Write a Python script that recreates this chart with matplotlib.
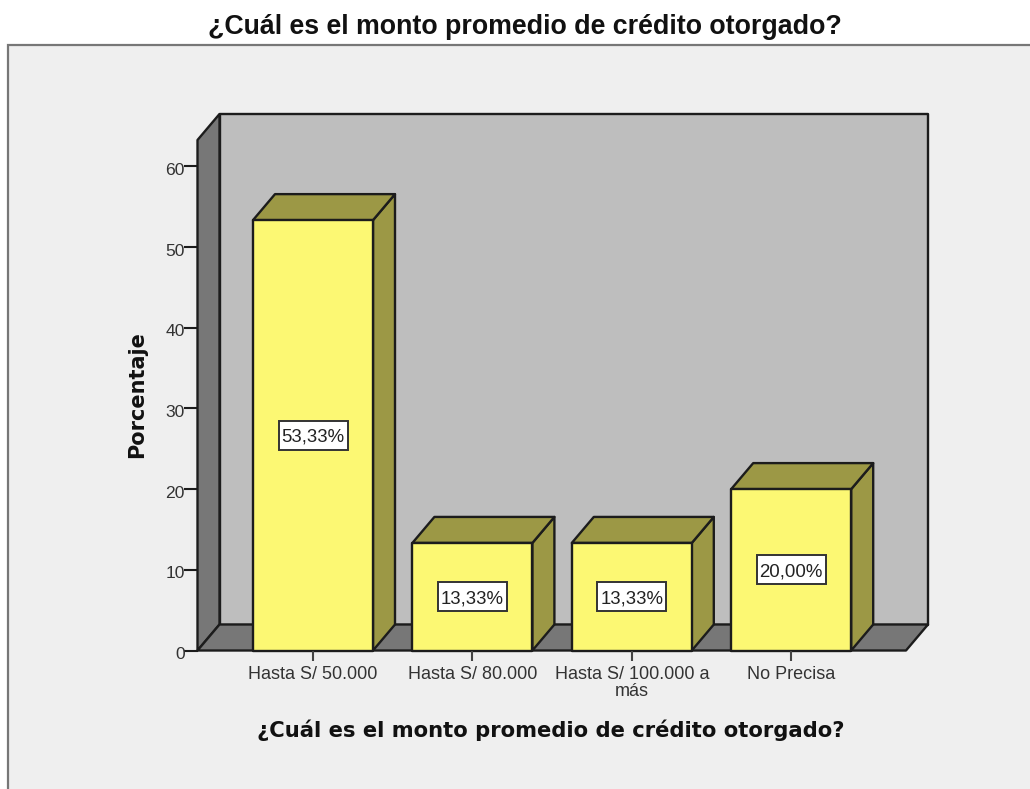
import matplotlib
matplotlib.use("Agg")
import matplotlib.pyplot as plt
from matplotlib.patches import Polygon, Rectangle
from matplotlib.transforms import ScaledTranslation

categories = ["Hasta S/ 50.000", "Hasta S/ 80.000", "Hasta S/ 100.000 a\nmás", "No Precisa"]
values = [53.33, 13.33, 13.33, 20.00]
value_labels = ["53,33%", "13,33%", "13,33%", "20,00%"]
y_ticks = [0, 10, 20, 30, 40, 50, 60]
title = "¿Cuál es el monto promedio de crédito otorgado?"
y_label = "Porcentaje"

W, H = 1030, 789
fig = plt.figure(figsize=(W / 100, H / 100), dpi=100, facecolor="white")
plt.rcParams["font.family"] = ["Liberation Sans", "DejaVu Sans"]

# chart panel
fig.patches.append(Rectangle((8 / W, -0.01), 1.01, 1 - 45 / H + 0.01, transform=fig.transFigure,
                             facecolor="#EFEFEF", edgecolor="#777777", linewidth=1.6, zorder=-1))

L, R, B, T = 197.5, 906, 650.5, 140
ax = fig.add_axes([L / W, 1 - B / H, (R - L) / W, (B - T) / H])
ymax = (B - T) / 8.07
step = 159.4
xmin = -(313 - L) / step
xmax = xmin + (R - L) / step
ax.set_xlim(xmin, xmax)
ax.set_ylim(0, ymax)
ax.patch.set_alpha(0)
for s in ax.spines.values():
    s.set_visible(False)

dx = 22 / step            # depth of the 3D projection in x units
dy = 26 / 8.07            # depth of the 3D projection in y units
bw = 120 / step
box_w = 69 / step
box_h = 29 / 8.07
EDGE = "#1c1c1c"
LW = 1.7
kw = dict(edgecolor=EDGE, linewidth=LW, joinstyle="round", clip_on=False)

# walls and floor
ax.add_patch(Polygon([(xmin + dx, dy), (xmax + dx, dy), (xmax + dx, ymax + dy), (xmin + dx, ymax + dy)],
                     facecolor="#BEBEBE", **kw))
ax.add_patch(Polygon([(xmin, 0), (xmin + dx, dy), (xmin + dx, ymax + dy), (xmin, ymax)],
                     facecolor="#777777", **kw))
ax.add_patch(Polygon([(xmin, 0), (xmax, 0), (xmax + dx, dy), (xmin + dx, dy)],
                     facecolor="#777777", **kw))

# bars
for i, v in enumerate(values):
    x0, x1 = i - bw / 2, i + bw / 2
    ax.add_patch(Polygon([(x1, 0), (x1 + dx, dy), (x1 + dx, v + dy), (x1, v)], facecolor="#9C9845", **kw))
    ax.add_patch(Polygon([(x0, v), (x1, v), (x1 + dx, v + dy), (x0 + dx, v + dy)], facecolor="#9C9845", **kw))
    ax.add_patch(Polygon([(x0, 0), (x1, 0), (x1, v), (x0, v)], facecolor="#FCF873", **kw))
    ax.add_patch(Rectangle((i - box_w / 2, v / 2 - box_h / 2), box_w, box_h, facecolor="white",
                           edgecolor="#333333", linewidth=1.4))
    ax.text(i, v / 2, value_labels[i], ha="center", va="center_baseline", fontsize=13.4, color="#222222")

ax.set_yticks(y_ticks)
ax.set_xticks(range(len(categories)))
ax.set_xticklabels(categories, linespacing=1.02)
ax.tick_params(axis="y", length=10, width=1.5, color=EDGE, labelsize=12.6, labelcolor="#333333", pad=-1)
ax.tick_params(axis="x", length=7, width=1.5, color="#444444", labelsize=13, labelcolor="#333333", pad=4)
shift = ScaledTranslation(0, -2.5 / 100, fig.dpi_scale_trans)
for lab in ax.get_yticklabels():
    lab.set_transform(lab.get_transform() + shift)

fig.text(525 / W, 1 - 27.5 / H, title, ha="center", va="center", fontsize=19.3, fontweight="bold", color="#111111")
fig.text(551 / W, 1 - 730 / H, title, ha="center", va="center", fontsize=15.2, fontweight="bold",
         family="DejaVu Sans", color="#111111")
fig.text(137 / W, 1 - 395 / H, y_label, ha="center", va="center", rotation=90, fontsize=15,
         fontweight="bold", family="DejaVu Sans", color="#111111")

fig.savefig("out.png", dpi=100, facecolor="white")
